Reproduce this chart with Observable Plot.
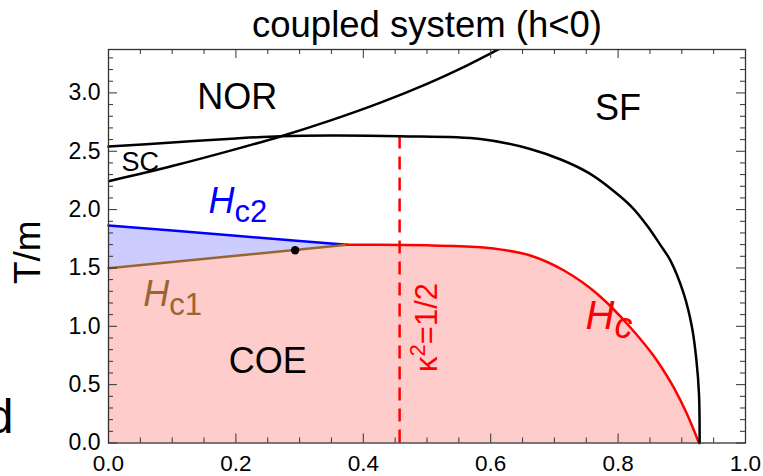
<!DOCTYPE html>
<html><head><meta charset="utf-8">
<script src="https://cdn.jsdelivr.net/npm/d3@7"></script>
<script src="https://cdn.jsdelivr.net/npm/@observablehq/plot@0.6"></script>
<style>
body{margin:0;background:#fff}
svg{font-family:"Liberation Sans",Arial,Helvetica,sans-serif}
</style>
</head><body><div id="chart"></div>
<script>
// ---- data (x = horizontal parameter, T/m = vertical) ----
const hcLeftX = [0, 0.1, 0.2, 0.3, 0.374];
const hc2T    = [1.864, 1.820, 1.775, 1.732, 1.698];
const hc1T    = [1.498, 1.552, 1.605, 1.658, 1.698];
const hcX = [0.374, 0.427, 0.5, 0.584, 0.62, 0.662, 0.715, 0.767, 0.819, 0.861, 0.887, 0.908, 0.927];
const hcT = [1.698, 1.698, 1.694, 1.678, 1.655, 1.607, 1.478, 1.279, 0.992, 0.707, 0.478, 0.250, 0];
const sfX = [0, 0.1, 0.2, 0.27, 0.35, 0.458, 0.584, 0.662, 0.712, 0.755, 0.793, 0.822, 0.846, 0.866, 0.882, 0.903, 0.916, 0.923, 0.927, 0.928];
const sfT = [2.54, 2.575, 2.61, 2.629, 2.635, 2.629, 2.605, 2.52, 2.425, 2.31, 2.16, 2.02, 1.86, 1.70, 1.565, 1.28, 0.992, 0.707, 0.42, 0];
const norX = [0, 0.1, 0.2, 0.27, 0.35, 0.427, 0.5, 0.56, 0.62];
const norT = [2.243, 2.373, 2.518, 2.627, 2.767, 2.917, 3.078, 3.228, 3.396];
const kappaX = [0.457];
const kappaT0 = [0];
const kappaT1 = [2.63];
const dotX = [0.293];
const dotT = [1.652];
const regionNames = ["NOR", "SF", "COE"];
const regionX = [0.202, 0.80, 0.25];
const regionT = [2.864, 2.77, 0.596];
const scName = ["SC"], scX = [0.05], scT = [2.335];
const curveNames = ["Hc2", "Hc1"];
const curveX = [0.157, 0.0546];
const curveT = [1.967, 1.178];
const hcName = ["Hc"], hcLabX = [0.749], hcLabT = [0.981];
const kapName = ["κ2=1/2"], kapLabX = [0.516], kapLabT = [0.99];
const xTicks = [0, 0.2, 0.4, 0.6, 0.8, 1.0];
const yTicks = [0, 0.5, 1.0, 1.5, 2.0, 2.5, 3.0];
const xMinor = [0,0.05,0.1,0.15,0.2,0.25,0.3,0.35,0.4,0.45,0.5,0.55,0.6,0.65,0.7,0.75,0.8,0.85,0.9,0.95,1.0];
const yMinor = [0,0.1,0.2,0.3,0.4,0.5,0.6,0.7,0.8,0.9,1.0,1.1,1.2,1.3,1.4,1.5,1.6,1.7,1.8,1.9,2.0,2.1,2.2,2.3,2.4,2.5,2.6,2.7,2.8,2.9,3.0,3.1,3.2,3.3];

const left = hcLeftX.map((x, i) => ({x, lo: hc1T[i], hi: hc2T[i]}));
const hc = hcX.map((x, i) => ({x, T: hcT[i]}));
const coe = [...hcLeftX.map((x, i) => ({x, T: hc1T[i]})), ...hc.slice(1)];
const sf = sfX.map((x, i) => ({x, T: sfT[i]}));
const nor = norX.map((x, i) => ({x, T: norT[i]}));
const regions = regionNames.map((t, i) => ({t, x: regionX[i], T: regionT[i]}));
const curves = curveNames.map((t, i) => ({t, x: curveX[i], T: curveT[i]}));

const W = 763, H = 476, mL = 108, mR = 18, mT = 49, mB = 33.5;
const pw = W - mL - mR, ph = H - mT - mB;
const axisColor = "#333";
const big = new Set(xTicks);
const bigY = new Set(yTicks);
const xMin = xMinor.filter(d => !big.has(d));
const yMin = yMinor.filter(d => !bigY.has(d));

const chart = Plot.plot({
  width: W, height: H,
  marginLeft: mL, marginRight: mR, marginTop: mT, marginBottom: mB,
  x: {domain: [0, 1]},
  y: {domain: [0, 3.372]},
  style: {background: "white", color: "black", fontFamily: '"Liberation Sans",Arial,sans-serif', overflow: "visible"},
  marks: [
    Plot.areaY(coe, {x: "x", y: "T", fill: "#ffcccc", curve: "monotone-x"}),
    Plot.areaY(left, {x: "x", y1: "lo", y2: "hi", fill: "#ccccff"}),
    Plot.line(left, {x: "x", y: "hi", stroke: "#0000ff", strokeWidth: 2.5}),
    Plot.line(left, {x: "x", y: "lo", stroke: "#996633", strokeWidth: 2.5}),
    Plot.line(hc, {x: "x", y: "T", stroke: "#ff0000", strokeWidth: 2.5, curve: "monotone-x"}),
    Plot.ruleX(kappaX, {x: d => d, y1: kappaT0, y2: kappaT1, stroke: "#ff0000", strokeWidth: 2.5, strokeDasharray: "13,8"}),
    Plot.line(sf, {x: "x", y: "T", stroke: "black", strokeWidth: 2.5, curve: "catmull-rom"}),
    Plot.line(nor, {x: "x", y: "T", stroke: "black", strokeWidth: 2.5, curve: "catmull-rom", clip: true}),
    Plot.dot(dotX, {x: d => d, y: dotT, r: 4.2, fill: "black"}),
    // frame + inward ticks
    Plot.frame({stroke: axisColor, strokeWidth: 1.3}),
    Plot.tickX(xMin, {x: d => d, insetTop: ph - 5, stroke: axisColor}),
    Plot.tickX(xMin, {x: d => d, insetBottom: ph - 5, stroke: axisColor}),
    Plot.tickX(xTicks, {x: d => d, insetTop: ph - 9, stroke: axisColor}),
    Plot.tickX(xTicks, {x: d => d, insetBottom: ph - 9, stroke: axisColor}),
    Plot.tickY(yMin, {y: d => d, insetRight: pw - 5, stroke: axisColor}),
    Plot.tickY(yMin, {y: d => d, insetLeft: pw - 5, stroke: axisColor}),
    Plot.tickY(yTicks, {y: d => d, insetRight: pw - 9, stroke: axisColor}),
    Plot.tickY(yTicks, {y: d => d, insetLeft: pw - 9, stroke: axisColor}),
    Plot.axisX({ticks: xTicks, tickSize: 0, tickPadding: 12, fontSize: 22.5, tickFormat: d => d.toFixed(1), label: null}),
    Plot.axisY({ticks: yTicks, tickSize: 0, tickPadding: 8, fontSize: 23, tickFormat: d => d.toFixed(1), label: null}),
    // texts
    Plot.text(["coupled system (h<0)"], {frameAnchor: "top", lineAnchor: "bottom", dy: -12.3, fontSize: 36.5}),
    Plot.text(["T/m"], {frameAnchor: "left", textAnchor: "middle", lineAnchor: "middle", rotate: -90, dx: -80, dy: 6, fontSize: 37}),
    Plot.text(["d"], {frameAnchor: "bottom-left", textAnchor: "end", lineAnchor: "bottom", dx: -95, dy: -10.5, fontSize: 48}),
    Plot.text(regions, {x: "x", y: "T", text: "t", lineAnchor: "bottom", fontSize: 36}),
    Plot.text(scName, {x: scX, y: scT, text: d => d, lineAnchor: "bottom", fontSize: 27}),
    Plot.text(curves, {x: "x", y: "T", text: "t", textAnchor: "start", lineAnchor: "bottom", fontSize: 36, fill: (d) => d.t === "Hc2" ? "#0000ff" : "#996633"}),
    Plot.text(hcName, {x: hcLabX, y: hcLabT, text: d => d, textAnchor: "start", lineAnchor: "bottom", fontSize: 40, fill: "#ff0000"}),
    Plot.text(kapName, {x: kapLabX, y: kapLabT, text: d => d, rotate: -90, textAnchor: "middle", lineAnchor: "bottom", fontSize: 31, fill: "#ff0000"})
  ]
});
document.getElementById("chart").appendChild(chart);

// subscripts / superscripts as real tspans
const NS = "http://www.w3.org/2000/svg";
function rich(el, parts) {
  el.textContent = "";
  for (const p of parts) {
    const t = document.createElementNS(NS, "tspan");
    t.textContent = p.s;
    for (const k in p.a) t.setAttribute(k, p.a[k]);
    el.appendChild(t);
  }
}
chart.querySelectorAll("text").forEach(el => {
  const s = el.textContent;
  if (s === "Hc2" || s === "Hc1") {
    rich(el, [{s: "H", a: {"font-style": "italic"}}, {s: s.slice(1), a: {"font-size": 31, dy: 9}}]);
  } else if (s === "Hc") {
    rich(el, [{s: "H", a: {"font-style": "italic"}}, {s: "c", a: {"font-style": "italic", "font-size": 36, dy: 9}}]);
  } else if (s === "κ2=1/2") {
    rich(el, [{s: "κ", a: {}}, {s: "2", a: {"font-size": 22, dy: -12}}, {s: "=1/2", a: {dy: 12}}]);
  }
});
</script>
</body></html>
